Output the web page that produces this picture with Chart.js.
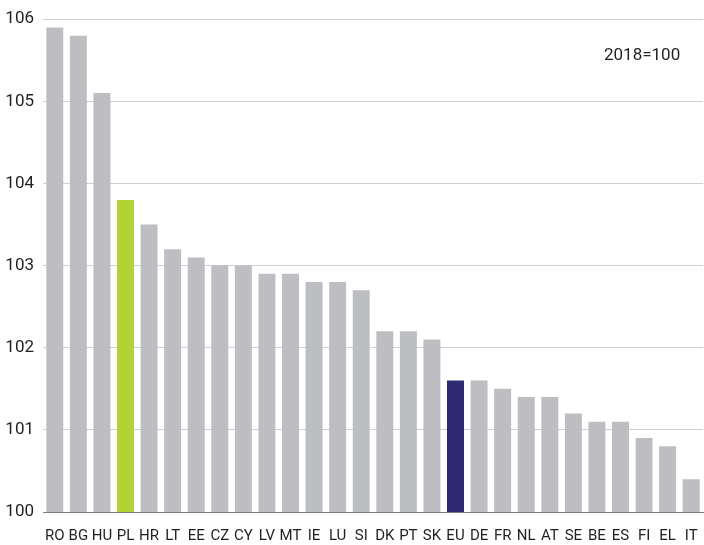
<!DOCTYPE html>
<html>
<head>
<meta charset="utf-8">
<script src="https://cdn.jsdelivr.net/npm/chart.js@4.4.7/dist/chart.umd.min.js"></script>
<style>
    body { margin: 0; background: #fff; }
    #wrap { position: relative; width: 704px; height: 545px; }
    #note {
        position: absolute; left: 604px; top: 44px;
        font: 17px Roboto, sans-serif; color: #231f20;
    }
</style>
</head>
<body>
<div id="wrap">
    <canvas id="chart" width="704" height="545"></canvas>
    <div id="note">2018=100</div>
</div>
<script>
const countries = ["RO", "BG", "HU", "PL", "HR", "LT", "EE", "CZ", "CY", "LV", "MT", "IE", "LU", "SI",
    "DK", "PT", "SK", "EU", "DE", "FR", "NL", "AT", "SE", "BE", "ES", "FI", "EL", "IT"];
const values = [105.9, 105.8, 105.1, 103.8, 103.5, 103.2, 103.1, 103.0, 103.0, 102.9, 102.9, 102.8, 102.8, 102.7,
    102.2, 102.2, 102.1, 101.6, 101.6, 101.5, 101.4, 101.4, 101.2, 101.1, 101.1, 100.9, 100.8, 100.4];
const yTicks = [100, 101, 102, 103, 104, 105, 106];

// highlighted bars
const highlight = { PL: "#b3d236", EU: "#2e2a72" };
const barColors = countries.map(c => highlight[c] || "#bdbec2");

const txt = "#231f20";

new Chart(document.getElementById("chart"), {
    type: "bar",
    data: {
        labels: countries,
        datasets: [{
            data: values,
            backgroundColor: barColors,
            borderWidth: 0,
            barPercentage: 0.72,
            categoryPercentage: 1,
        }],
    },
    options: {
        responsive: false,
        animation: false,
        layout: { padding: { top: 17, right: 1, left: 0, bottom: 0 } },
        plugins: { legend: { display: false }, tooltip: { enabled: false } },
        scales: {
            x: {
                grid: { display: false, drawTicks: false },
                border: { color: "#7a7a7a", width: 1 },
                ticks: { color: txt, font: { family: "Roboto", size: 15 }, padding: 15, maxRotation: 0, autoSkip: false },
                afterFit: s => { s.height = 33; s.paddingLeft = 0; s.paddingRight = 0; },
            },
            y: {
                min: 100,
                max: 106,
                afterBuildTicks: s => { s.ticks = yTicks.map(v => ({ value: v })); },
                grid: { color: "#cfcfd1", drawTicks: false },
                border: { display: false },
                ticks: { color: txt, font: { family: "Roboto", size: 17 }, padding: 9 },
                afterFit: s => { s.width = 43; },
            },
        },
    },
});
</script>
</body>
</html>
